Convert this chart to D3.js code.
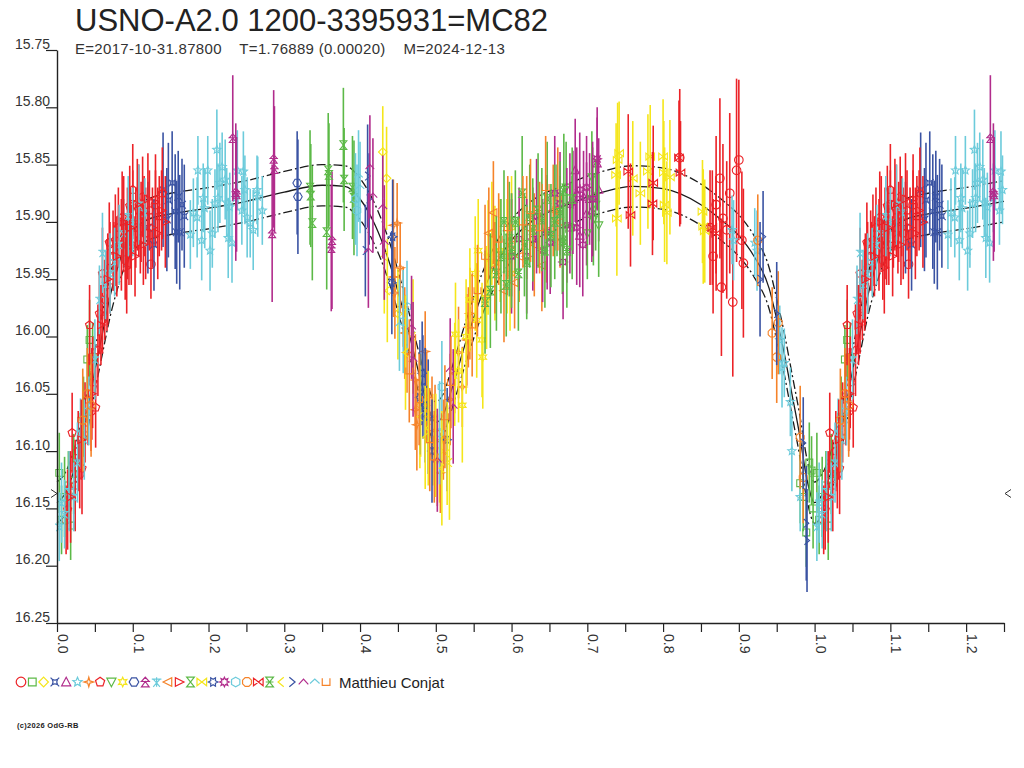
<!DOCTYPE html>
<html><head><meta charset="utf-8">
<script src="https://cdn.jsdelivr.net/npm/d3@7"></script>
<style>
body{margin:0;background:#fff}
svg{display:block}
text{font-family:"Liberation Sans",Arial,Helvetica,sans-serif}
</style>
</head><body>
<svg id="chart" width="1024" height="768"></svg>
<script>
// ---------------- texts / ticks ----------------
const titleText = "USNO-A2.0 1200-3395931=MC82";
const subtitleText = "E=2017-10-31.87800    T=1.76889 (0.00020)    M=2024-12-13";
const observerName = "Matthieu Conjat";
const copyrightText = "(c)2026 OdG-RB";
const xTickValues = [0,0.05,0.1,0.15,0.2,0.25,0.3,0.35,0.4,0.45,0.5,0.55,0.6,0.65,0.7,0.75,0.8,0.85,0.9,0.95,1.0,1.05,1.1,1.15,1.2,1.25];
const xTickLabels = [0,0.1,0.2,0.3,0.4,0.5,0.6,0.7,0.8,0.9,1.0,1.1,1.2];
const yTickValues = [15.75,15.80,15.85,15.90,15.95,16.00,16.05,16.10,16.15,16.20,16.25];
const palette = ["#ec2227","#5cb947","#f5e61b","#3a53a3","#b12c8c","#6ccbdb","#f5832a"];
const minMarkMag = 16.137;

// ---------------- model (mean curve and envelope) ----------------
const modelPhase = [0.00,0.01,0.02,0.03,0.04,0.05,0.06,0.07,0.08,0.09,0.10,0.12,0.15,0.20,0.25,0.30,0.35,0.38,0.40,0.42,0.44,0.46,0.48,0.49,0.50,0.51,0.52,0.54,0.56,0.58,0.60,0.63,0.67,0.72,0.76,0.80,0.85,0.88,0.90,0.92,0.94,0.95,0.96,0.97,0.98,0.99,1.00];
const modelMag   = [16.145,16.138,16.122,16.098,16.065,16.030,15.997,15.965,15.940,15.920,15.908,15.898,15.893,15.888,15.882,15.874,15.868,15.869,15.880,15.903,15.938,15.985,16.038,16.062,16.075,16.068,16.048,16.004,15.965,15.936,15.916,15.898,15.886,15.874,15.869,15.871,15.885,15.900,15.912,15.930,15.958,15.985,16.015,16.050,16.085,16.125,16.145];
const upperMag   = [16.127,16.120,16.104,16.080,16.047,16.012,15.979,15.947,15.922,15.902,15.890,15.880,15.875,15.870,15.864,15.856,15.850,15.851,15.862,15.885,15.920,15.967,16.020,16.044,16.057,16.050,16.030,15.986,15.947,15.918,15.898,15.880,15.868,15.856,15.851,15.853,15.867,15.882,15.894,15.912,15.940,15.967,15.997,16.032,16.067,16.107,16.127];
const lowerMag   = [16.163,16.156,16.140,16.116,16.083,16.048,16.015,15.983,15.958,15.938,15.926,15.916,15.911,15.906,15.900,15.892,15.886,15.887,15.898,15.921,15.956,16.003,16.056,16.080,16.093,16.086,16.066,16.022,15.983,15.954,15.934,15.916,15.904,15.892,15.887,15.889,15.903,15.918,15.930,15.948,15.976,16.003,16.033,16.068,16.103,16.143,16.163];

// ---------------- observations: [phase, mag, err] per session ----------------
const s00 = [[0.822,15.844,0.06],[0.862,15.905,0.05],[0.866,15.930,0.05],[0.870,15.885,0.06],[0.875,15.862,0.07],[0.877,15.957,0.06],[0.879,15.897,0.065],[0.884,15.907,0.06],[0.888,15.875,0.07],[0.892,15.970,0.065],[0.897,15.855,0.08],[0.900,15.846,0.07],[0.904,15.916,0.06],[0.906,15.936,0.065],
  [0.012,16.160,0.03],[0.030,16.120,0.03],[0.045,16.065,0.035],[0.060,15.985,0.03],[0.075,15.930,0.03],[0.095,15.920,0.035],[0.100,15.885,0.03],[0.110,15.915,0.03],[0.115,15.895,0.035],[0.124,15.937,0.03],[0.130,15.885,0.03]];
const s01 = [[0.981,16.128,0.035],[0.985,16.140,0.03],[0.989,16.171,0.03],[0.993,16.110,0.035],[0.996,16.117,0.03],[0.998,16.150,0.035],
  [0.003,16.119,0.035],[0.006,16.160,0.03],[0.010,16.140,0.035],[0.015,16.130,0.03],[0.018,16.165,0.03],[0.022,16.120,0.035],[0.028,16.100,0.03],[0.035,16.070,0.035],[0.040,16.020,0.03],[0.043,16.003,0.035],[0.047,16.018,0.03]];
const s02 = [[0.430,15.839,0.04],[0.435,15.862,0.045],[0.450,15.980,0.04],[0.480,16.060,0.045],[0.496,16.090,0.04],[0.505,16.100,0.045]];
const s03 = [[0.120,15.905,0.04],[0.128,15.920,0.04],[0.140,15.872,0.05],[0.145,15.898,0.045],[0.147,15.881,0.05],[0.152,15.866,0.045],[0.156,15.891,0.05],[0.158,15.909,0.045],[0.160,15.878,0.04],[0.162,15.909,0.05],[0.165,15.885,0.04],[0.168,15.895,0.045]];
const s04 = [[0.677,15.905,0.04],[0.684,15.855,0.045],[0.686,15.875,0.04],[0.690,15.912,0.045],[0.695,15.878,0.04],[0.699,15.893,0.045],[0.703,15.880,0.04],[0.706,15.890,0.045],[0.713,15.849,0.04],[0.715,15.872,0.045]];
const s05 = [[0.176,15.911,0.03],[0.180,15.892,0.03],[0.185,15.896,0.035],[0.186,15.855,0.03],[0.191,15.916,0.035],[0.193,15.879,0.03],[0.195,15.888,0.035],[0.199,15.855,0.03],[0.202,15.925,0.035],[0.205,15.910,0.03],[0.2085,15.884,0.03],[0.211,15.837,0.035],[0.2125,15.879,0.03],[0.215,15.866,0.035],[0.218,15.852,0.03],[0.222,15.863,0.035],[0.224,15.883,0.03],[0.226,15.914,0.035],[0.228,15.887,0.03],[0.231,15.918,0.035],[0.236,15.879,0.03],[0.238,15.855,0.035],[0.244,15.890,0.03],[0.246,15.856,0.035],[0.248,15.872,0.03],[0.251,15.896,0.035],[0.255,15.901,0.03],[0.259,15.907,0.035],[0.264,15.872,0.03],[0.265,15.878,0.035],[0.271,15.890,0.03],
  [0.891,15.907,0.03],[0.893,15.916,0.035],[0.921,15.918,0.03],[0.924,15.925,0.035],[0.954,16.003,0.03],[0.957,16.027,0.035],[0.960,16.023,0.03],[0.968,16.057,0.03],[0.970,16.100,0.035],[0.981,16.140,0.03]];
const s06 = [[0.444,15.903,0.04],[0.449,15.901,0.035],[0.453,15.940,0.04],[0.444,15.948,0.035],[0.446,15.962,0.04],[0.457,15.974,0.035],[0.459,15.997,0.04],[0.462,16.014,0.035],[0.473,16.038,0.04],[0.473,16.064,0.035],[0.475,16.077,0.04],[0.486,16.013,0.035],[0.488,16.053,0.04],[0.495,16.070,0.035],[0.499,16.082,0.04],[0.506,16.119,0.035],[0.502,16.108,0.04],[0.510,16.090,0.035],[0.519,16.055,0.04],[0.525,16.032,0.035],[0.530,16.014,0.04],[0.535,16.044,0.035],[0.541,16.003,0.04],[0.543,15.992,0.035],[0.545,15.980,0.04]];
const s07 = [[0.014,16.151,0.035],[0.020,16.084,0.035],[0.024,16.130,0.04],[0.028,16.100,0.035],[0.033,16.115,0.04],[0.037,16.075,0.035],[0.041,16.055,0.04],[0.043,15.990,0.035],[0.047,16.040,0.04],[0.051,16.062,0.035],[0.054,16.012,0.04],[0.056,15.980,0.035],[0.060,15.945,0.04],[0.063,15.968,0.035],[0.066,15.955,0.04],[0.069,15.918,0.035],[0.070,15.940,0.04],[0.074,15.925,0.035],[0.077,15.916,0.04],[0.081,15.905,0.035],[0.085,15.920,0.04],[0.086,15.896,0.04],[0.090,15.933,0.035],[0.093,15.910,0.04],[0.096,15.886,0.035],[0.098,15.920,0.035],[0.100,15.872,0.04],[0.104,15.905,0.035],[0.108,15.890,0.04],[0.111,15.900,0.035],[0.113,15.878,0.035],[0.117,15.910,0.04],[0.122,15.890,0.035],[0.130,15.881,0.04],[0.135,15.895,0.035],[0.139,15.875,0.04]];
const s08 = [[0.660,15.890,0.04],[0.667,15.918,0.045],[0.672,15.870,0.04],[0.680,15.905,0.045],[0.700,15.910,0.04],[0.706,15.861,0.04],[0.707,15.880,0.045],[0.708,15.898,0.04],[0.711,15.885,0.04],[0.715,15.903,0.045]];
const s09 = [[0.526,15.998,0.045],[0.530,16.030,0.045],[0.535,16.060,0.05],[0.540,16.000,0.05],[0.545,15.968,0.045],[0.552,15.945,0.05],[0.554,15.986,0.05],[0.556,15.925,0.045],[0.561,16.003,0.05],[0.562,16.018,0.045],[0.567,15.966,0.045],[0.569,15.931,0.05],[0.574,15.910,0.045],[0.578,15.936,0.05],[0.585,15.925,0.045],[0.594,15.930,0.05],[0.598,15.945,0.05],[0.600,15.905,0.045]];
const s10 = [[0.317,15.866,0.045],[0.318,15.878,0.05]];
const s11 = [[0.232,15.827,0.055],[0.236,15.874,0.06],[0.237,15.876,0.05],[0.284,15.910,0.06],[0.286,15.845,0.06],[0.287,15.854,0.055],[0.362,15.923,0.055],[0.363,15.916,0.06]];
const s12 = [[0.003,16.166,0.03],[0.006,16.145,0.035],[0.010,16.155,0.03],[0.016,16.135,0.035],[0.022,16.140,0.03],[0.027,16.110,0.035],[0.031,16.084,0.03],[0.036,16.090,0.035],[0.042,16.065,0.03],[0.050,16.020,0.035],[0.056,15.968,0.03],[0.060,15.927,0.035],[0.064,15.955,0.03],[0.070,15.945,0.035],[0.076,15.935,0.03],[0.082,15.920,0.035],[0.088,15.910,0.03],[0.094,15.895,0.035],[0.100,15.900,0.03],[0.108,15.885,0.035],[0.116,15.892,0.03]];
const s13 = [[0.570,15.910,0.04],[0.576,15.892,0.045],[0.578,15.940,0.04],[0.590,15.960,0.045],[0.600,15.920,0.045],[0.604,15.953,0.04],[0.610,15.930,0.04],[0.620,15.905,0.045],[0.630,15.920,0.045],[0.640,15.938,0.04],[0.646,15.908,0.045],[0.655,15.890,0.04],[0.661,15.880,0.045],[0.664,15.900,0.04]];
const s14 = [[0.018,16.140,0.04],[0.032,16.090,0.035],[0.046,16.050,0.04],[0.058,15.990,0.035],[0.067,15.950,0.04],[0.079,15.930,0.035],[0.088,15.900,0.04],[0.092,15.940,0.04],[0.097,15.905,0.035],[0.103,15.930,0.035],[0.106,15.885,0.04],[0.114,15.920,0.035],[0.120,15.880,0.04],[0.126,15.905,0.035],[0.133,15.910,0.04],[0.138,15.890,0.035],[0.143,15.900,0.04]];
const s15 = [[0.334,15.870,0.05],[0.335,15.877,0.045],[0.337,15.901,0.05],[0.356,15.909,0.05],[0.358,15.855,0.05],[0.359,15.859,0.045],[0.378,15.833,0.05],[0.379,15.863,0.045],[0.390,15.870,0.045],[0.392,15.879,0.05]];
const s16 = [[0.738,15.859,0.045],[0.739,15.897,0.05],[0.740,15.846,0.05],[0.742,15.840,0.045],[0.760,15.862,0.05],[0.770,15.875,0.045],[0.780,15.856,0.05],[0.783,15.843,0.045],[0.800,15.843,0.05],[0.801,15.857,0.045],[0.802,15.885,0.05],[0.805,15.892,0.045],[0.809,15.861,0.05],[0.852,15.891,0.045],[0.853,15.904,0.05],[0.855,15.908,0.045]];
const s17 = [[0.442,15.953,0.045],[0.443,15.913,0.05],[0.479,16.053,0.05],[0.482,16.032,0.045],[0.483,16.044,0.045],[0.486,16.060,0.05],[0.490,16.070,0.05],[0.495,16.100,0.045],[0.515,16.090,0.045]];
const s18 = [[0.600,15.930,0.05],[0.610,15.915,0.045],[0.620,15.930,0.05],[0.628,15.915,0.045],[0.633,15.895,0.05],[0.641,15.925,0.045],[0.647,15.909,0.05],[0.651,15.918,0.045],[0.657,15.875,0.05],[0.664,15.884,0.045],[0.668,15.935,0.05],[0.673,15.903,0.05],[0.677,15.885,0.045],[0.681,15.883,0.045],[0.686,15.905,0.05],[0.690,15.872,0.05],[0.694,15.920,0.045],[0.699,15.870,0.045],[0.707,15.880,0.05],[0.713,15.845,0.045]];
const s19 = [[0.394,15.880,0.04],[0.396,15.890,0.04],[0.457,15.987,0.045],[0.462,15.974,0.04],[0.505,16.084,0.045],[0.508,16.044,0.04]];
const s20 = [[0.925,15.916,0.04],[0.944,15.997,0.04],[0.950,16.018,0.04],[0.952,15.988,0.045],[0.981,16.088,0.045],[0.985,16.123,0.04],[0.034,16.073,0.045],[0.040,16.050,0.04],[0.045,16.060,0.045]];
const s21 = [[0.754,15.856,0.05],[0.757,15.894,0.045],[0.786,15.884,0.045],[0.787,15.866,0.05],[0.821,15.844,0.05],[0.823,15.857,0.045],[0.865,15.905,0.05],[0.870,15.910,0.05]];
const s22 = [[0.565,15.970,0.045],[0.572,15.960,0.05],[0.580,15.945,0.05],[0.586,15.930,0.05],[0.590,15.900,0.045],[0.593,15.955,0.045],[0.597,15.915,0.05],[0.600,15.925,0.05],[0.605,15.900,0.045],[0.609,15.945,0.05],[0.614,15.875,0.05],[0.617,15.920,0.045],[0.620,15.935,0.05],[0.624,15.895,0.045],[0.628,15.907,0.045],[0.635,15.890,0.05],[0.640,15.898,0.045],[0.644,15.925,0.05],[0.647,15.880,0.05],[0.652,15.912,0.045],[0.657,15.900,0.05],[0.664,15.892,0.045],[0.668,15.916,0.045],[0.669,15.873,0.05],[0.673,15.925,0.05],[0.680,15.880,0.045]];
const s23 = [[0.432,15.930,0.05],[0.436,15.960,0.045],[0.460,16.014,0.05],[0.470,16.000,0.05],[0.479,16.070,0.045],[0.486,16.088,0.045],[0.490,16.080,0.05],[0.500,16.095,0.045],[0.508,16.115,0.05],[0.515,16.102,0.045],[0.518,16.110,0.05],[0.525,16.033,0.045]];
const s24 = [[0.407,15.925,0.04],[0.410,15.860,0.045],[0.412,15.880,0.04],[0.928,15.950,0.05],[0.932,15.913,0.04],[0.950,15.980,0.045],[0.985,16.093,0.04],[0.989,16.163,0.05],[0.990,16.178,0.045]];
const s25 = [[0.411,15.925,0.05],[0.413,15.852,0.045],[0.417,15.877,0.05],[0.430,15.887,0.045],[0.432,15.918,0.05],[0.468,15.992,0.045],[0.470,16.020,0.05],[0.502,16.108,0.045],[0.519,16.029,0.045],[0.523,16.061,0.05]];
const s26 = [[0.398,15.860,0.04],[0.400,15.870,0.04],[0.452,15.990,0.04]];
const s27 = [[0.465,16.030,0.045],[0.478,16.055,0.04],[0.492,16.090,0.045],[0.498,16.105,0.04],[0.512,16.070,0.045],[0.520,16.040,0.04],[0.548,15.990,0.045],[0.555,15.960,0.04],[0.565,15.930,0.045],[0.583,15.915,0.04],[0.595,15.905,0.045],[0.615,15.900,0.04],[0.625,15.890,0.045],[0.637,15.905,0.04],[0.645,15.870,0.045]];

const sessionData = [s00,s01,s02,s03,s04,s05,s06,s07,s08,s09,s10,s11,s12,s13,s14,s15,s16,s17,s18,s19,s20,s21,s22,s23,s24,s25,s26,s27];

// ---------------- drawing ----------------
const svg = d3.select("#chart");
const x = d3.scaleLinear().domain([0,1.25]).range([57,1004]);
const y = d3.scaleLinear().domain([15.75,16.25]).range([50,623]);
const ink = "#222";

function starPts(n, R, rIn, rot) {
  const pts = [];
  for (let i = 0; i < 2*n; i++) {
    const a = rot + i*Math.PI/n;
    const rr = i % 2 === 0 ? R : rIn;
    pts.push([rr*Math.sin(a), -rr*Math.cos(a)]);
  }
  return pts;
}
function polyPts(n, R, rot) {
  const pts = [];
  for (let i = 0; i < n; i++) { const a = rot + i*2*Math.PI/n; pts.push([R*Math.sin(a), -R*Math.cos(a)]); }
  return pts;
}
function closed(pts){ return "M" + pts.map(p => p[0].toFixed(2)+","+p[1].toFixed(2)).join("L") + "Z"; }
function symPath(k, r) {
  const a = r*0.8;
  switch (k) {
    case 0: return `M${r},0A${r},${r} 0 1 1 ${-r},0A${r},${r} 0 1 1 ${r},0Z`;
    case 1: return `M${-a},${-a}H${a}V${a}H${-a}Z`;
    case 2: return closed([[0,-r],[r,0],[0,r],[-r,0]]);
    case 3: { const b=r*0.55; return `M${-b},${-b}Q0,${-b*0.4} ${b},${-b}Q${b*0.4},0 ${b},${b}Q0,${b*0.4} ${-b},${b}Q${-b*0.4},0 ${-b},${-b}Z M${-b},${-b}l${-r*0.35},${-r*0.35}M${b},${-b}l${r*0.35},${-r*0.35}M${b},${b}l${r*0.35},${r*0.35}M${-b},${b}l${-r*0.35},${r*0.35}`; }
    case 4: return closed([[0,-r],[r*0.95,r*0.8],[-r*0.95,r*0.8]]);
    case 5: return closed(starPts(5, r, r*0.45, 0));
    case 6: return closed(starPts(4, r, r*0.32, 0));
    case 7: return closed(polyPts(5, r, 0));
    case 8: return closed([[0,r],[r*0.95,-r*0.8],[-r*0.95,-r*0.8]]);
    case 9: return closed(starPts(6, r, r*0.5, 0));
    case 10: return closed(polyPts(6, r, Math.PI/2));
    case 11: return `M0,${-r}L${r*0.8},${-r*0.1}H${-r*0.8}Z M${-r},${-r*0.1}H${r} M0,${-r*0.1}L${r*0.8},${r}H${-r*0.8}Z`;
    case 12: return `M${-r},${-r*0.6}H${r} M${-r*0.7},${-r*0.6}L0,${r*0.2}L${r*0.7},${-r*0.6} M0,${-r}V${r} M${-r*0.7},${r}L0,${r*0.2}L${r*0.7},${r}`;
    case 13: return closed([[-r,0],[r*0.8,-r*0.9],[r*0.8,r*0.9]]);
    case 14: return closed([[r,0],[-r*0.8,-r*0.9],[-r*0.8,r*0.9]]);
    case 15: return closed([[-a,-r],[a,-r],[-a,r],[a,r]]);
    case 16: return closed([[-r,-a],[r,a],[r,-a],[-r,a]]);
    case 17: return closed(starPts(6, r, r*0.55, Math.PI/6));
    case 18: return closed(starPts(8, r, r*0.55, 0));
    case 19: return closed(polyPts(6, r, 0));
    case 20: return closed(polyPts(8, r, Math.PI/8));
    case 21: return closed([[-r,-a],[r,a],[r,-a],[-r,a]]) + `M${-r},${-a}V${a}M${r},${-a}V${a}`;
    case 22: return closed([[-a,-r],[a,-r],[-a,r],[a,r]]) + `M${-a},0H${a}`;
    case 23: return `M${r*0.6},${-r}L${-r*0.6},0L${r*0.6},${r}`;
    case 24: return `M${-r*0.6},${-r}L${r*0.6},0L${-r*0.6},${r}`;
    case 25: return `M${-r},${r*0.5}L0,${-r*0.6}L${r},${r*0.5}`;
    case 26: return `M${-r},${r*0.3}L0,${-r*0.6}L${r},${r*0.3}`;
    case 27: return `M${-a},${-r*0.8}V${r*0.7}H${a}V${-r*0.8}`;
  }
  return "";
}

// title / subtitle
svg.append("text").attr("x",75).attr("y",31).attr("font-size",31).attr("fill",ink).text(titleText);
svg.append("text").attr("x",75).attr("y",53.5).attr("font-size",15).attr("fill","#333")
  .attr("letter-spacing",0.3).attr("xml:space","preserve").style("white-space","pre").text(subtitleText);

// model curves (phase 0..1 repeated to 1.25)
function extend(ph, mg) {
  const out = ph.map((p,i) => [p, mg[i]]);
  ph.forEach((p,i) => { if (p > 0 && p <= 0.25) out.push([p+1, mg[i]]); });
  return out.sort((a,b) => a[0]-b[0]);
}
const line = d3.line().x(d => x(d[0])).y(d => y(d[1])).curve(d3.curveMonotoneX);
const modelG = svg.append("g").attr("fill","none").attr("stroke","#1a1a1a");
modelG.append("path").attr("d", line(extend(modelPhase, modelMag))).attr("stroke-width",1.3);
modelG.append("path").attr("d", line(extend(modelPhase, upperMag))).attr("stroke-width",1.3).attr("stroke-dasharray","9,3,2,3");
modelG.append("path").attr("d", line(extend(modelPhase, lowerMag))).attr("stroke-width",1.3).attr("stroke-dasharray","9,3,2,3");

// observations
const obsG = svg.append("g");
sessionData.forEach((pts, k) => {
  if (!pts) return;
  const col = palette[k % 7];
  const all = [];
  pts.forEach(d => {
    all.push([d[0], d[1], d[2]]);
    if (d[0] <= 0.25) all.push([d[0]+1, d[1], d[2]]);
  });
  const vis = all.filter(d => d[0] >= 0 && d[0] <= 1.25);
  const g = obsG.append("g").attr("stroke", col).attr("fill","none");
  g.selectAll("line").data(vis).join("line")
    .attr("x1", d => x(d[0])).attr("x2", d => x(d[0]))
    .attr("y1", d => y(d[1]-d[2])).attr("y2", d => y(d[1]+d[2]))
    .attr("stroke-width", 1.6);
  g.selectAll("path").data(vis).join("path")
    .attr("transform", d => `translate(${x(d[0])},${y(d[1])})`)
    .attr("d", symPath(k, 4.3)).attr("stroke-width", 1.1);
});

// axes
const xAxis = d3.axisBottom(x).tickValues(xTickValues).tickSize(9).tickSizeOuter(0)
  .tickFormat(d => xTickLabels.some(v => Math.abs(v-d) < 1e-9) ? d.toFixed(1) : "");
const gx = svg.append("g").attr("transform","translate(0,623)").call(xAxis);
gx.select(".domain").attr("stroke",ink).attr("stroke-width",1.4);
gx.selectAll(".tick line").attr("stroke",ink).attr("stroke-width",1.2);
gx.selectAll(".tick text").attr("transform","translate(0.5,11) rotate(90)")
  .attr("x",0).attr("y",0).attr("dy",0).attr("text-anchor","start")
  .attr("font-size",14).attr("fill","#333").attr("font-family",null);

const yAxis = d3.axisLeft(y).tickValues(yTickValues).tickSize(11).tickSizeOuter(0).tickFormat(d3.format(".2f"));
const gy = svg.append("g").attr("transform","translate(57,0)").call(yAxis);
gy.select(".domain").attr("stroke",ink).attr("stroke-width",1.4);
gy.selectAll(".tick line").attr("stroke",ink).attr("stroke-width",1.2);
gy.selectAll(".tick text").attr("x",-7).attr("dy",-2).attr("font-size",14).attr("fill","#333").attr("font-family",null);

// minimum markers
svg.append("path").attr("d", `M${x(0)-6},${y(minMarkMag)-4}L${x(0)},${y(minMarkMag)}L${x(0)-6},${y(minMarkMag)+4}`)
  .attr("fill","none").attr("stroke","#333").attr("stroke-width",1);
svg.append("path").attr("d", `M${x(1.25)+7},${y(minMarkMag)-4}L${x(1.25)+1},${y(minMarkMag)}L${x(1.25)+7},${y(minMarkMag)+4}`)
  .attr("fill","none").attr("stroke","#333").attr("stroke-width",1);

// legend
const legG = svg.append("g");
d3.range(28).forEach(k => {
  legG.append("path").attr("transform", `translate(${21 + k*11.3},682)`)
    .attr("d", symPath(k, 4.8)).attr("fill","none").attr("stroke", palette[k % 7]).attr("stroke-width",1.2);
});
svg.append("text").attr("x",339).attr("y",688).attr("font-size",15).attr("fill",ink).text(observerName);
svg.append("text").attr("x",17).attr("y",728).attr("font-size",7.5).attr("font-weight","bold").attr("letter-spacing",0.3).attr("fill",ink).text(copyrightText);
</script>
</body></html>
